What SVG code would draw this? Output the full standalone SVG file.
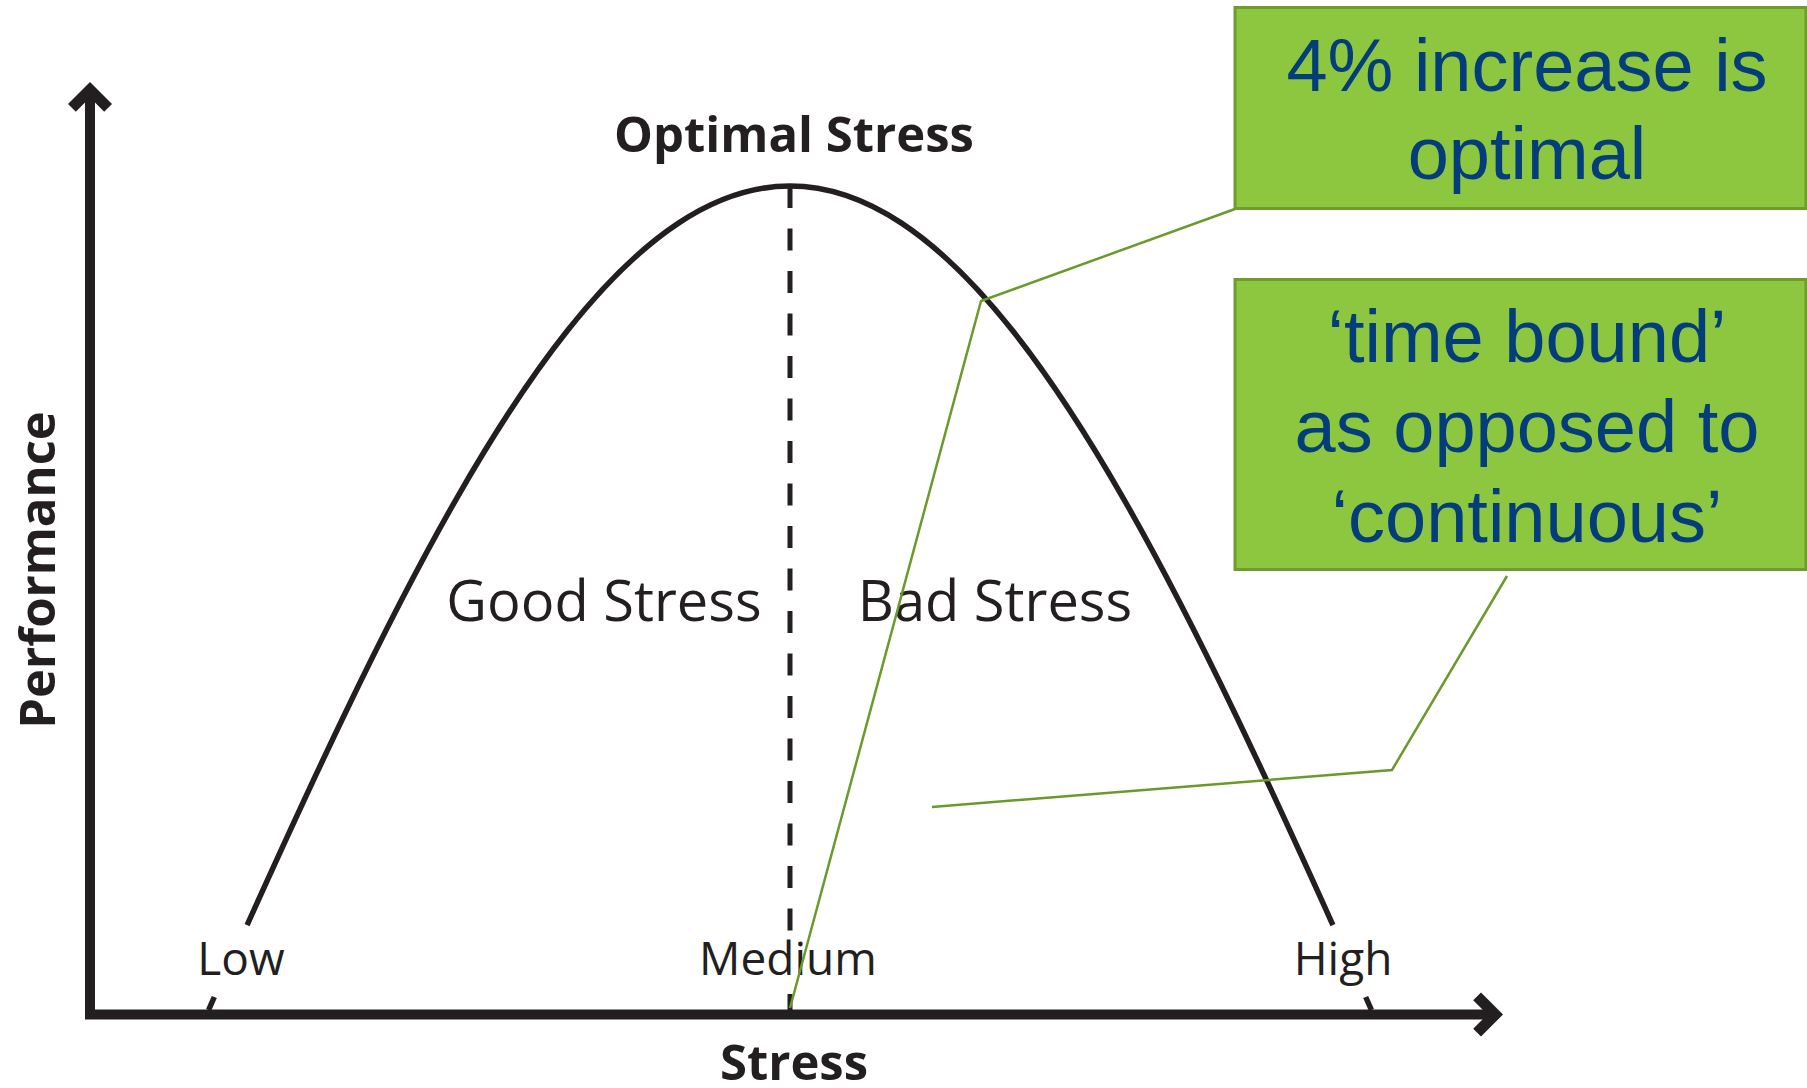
<svg xmlns="http://www.w3.org/2000/svg" width="1807" height="1088" viewBox="0 0 1807 1088">
  <style>
    .ink { fill: #231f20; }
    .axis { stroke: #231f20; stroke-width: 10; fill: none; }
    .curve { stroke: #231f20; stroke-width: 5.5; fill: none; stroke-linecap: butt; }
    .dash { stroke: #231f20; stroke-width: 5; fill: none; stroke-dasharray: 22 20.5; }
    .lbl { font-family: "Open Sans", "Noto Sans", "DejaVu Sans", sans-serif; fill: #231f20; text-anchor: middle; }
    .bold { font-weight: 700; }
    .box { fill: #8dc63f; stroke: #6f9b2f; stroke-width: 3; }
    .note { font-family: "Liberation Sans", Arial, sans-serif; font-size: 74px; fill: #033d7c; text-anchor: middle; }
    .leader { stroke: #6a9a2a; stroke-width: 2.5; fill: none; stroke-linejoin: miter; }
  </style>

  <rect width="1807" height="1088" fill="#ffffff"/>

  <!-- axes with chevron heads -->
  <g id="axes">
    <line class="axis" x1="90" y1="95" x2="90" y2="1019"/>
    <line class="axis" x1="85" y1="1014.5" x2="1492" y2="1014.5" stroke-width="9"/>
    <polygon class="ink" points="90,82 112,104 104.2,111.8 90,97.5 75.8,111.8 68,104"/>
    <polygon class="ink" points="1503,1014.5 1481,992.5 1473.2,1000.3 1487.5,1014.5 1473.2,1028.7 1481,1036.5"/>
  </g>

  <!-- stress/performance curve (half sine hump) -->
  <g id="curve">
    <path class="curve" d="M247.1,925.02
      C279.87,852.38 312.62,780.77 345.39,712.69
      C382.44,635.7 419.49,563.25 456.54,498.55
      C493.59,433.85 530.64,376.91 567.69,330.27
      C604.74,283.63 641.8,247.3 678.85,222.89
      C715.9,198.48 752.95,186 790,186
      C827.05,186 864.1,198.48 901.15,222.89
      C938.2,247.3 975.26,283.63 1012.31,330.27
      C1049.36,376.91 1086.41,433.85 1123.46,498.55
      C1160.51,563.25 1197.56,635.7 1234.61,712.69
      C1267.38,780.77 1300.13,852.38 1332.9,925.02"/>
    <path class="curve" d="M214.3,997 L208.6,1010"/>
    <path class="curve" d="M1365.7,997 L1371.4,1010"/>
    <line class="dash" x1="790" y1="186" x2="790" y2="934"/>
    <line x1="790" y1="994" x2="790" y2="1010" stroke="#231f20" stroke-width="5"/>
  </g>

  <!-- chart labels -->
  <g id="labels">
    <text class="lbl bold" x="794" y="152" font-size="49">Optimal Stress</text>
    <text class="lbl" x="604" y="621" font-size="56">Good Stress</text>
    <text class="lbl" x="995" y="621" font-size="56">Bad Stress</text>
    <text class="lbl" x="241" y="975" font-size="46">Low</text>
    <text class="lbl" x="788" y="975" font-size="46">Medium</text>
    <text class="lbl" x="1343" y="975" font-size="46">High</text>
    <text class="lbl bold" x="794" y="1080" font-size="49">Stress</text>
    <text class="lbl bold" x="0" y="0" font-size="49" transform="translate(55,570) rotate(-90)">Performance</text>
  </g>

  <!-- leader lines from the notes -->
  <g id="connectors">
    <polyline class="leader" points="1235,209 981,301 790,1008"/>
    <polyline class="leader" points="1507,576 1392,770 932,807"/>
  </g>

  <g id="note-optimal">
    <rect class="box" x="1235" y="7.5" width="571" height="201"/>
    <text class="note" x="1527" y="91">4% increase is</text>
    <text class="note" x="1527" y="179">optimal</text>
  </g>

  <g id="note-time-bound">
    <rect class="box" x="1235" y="279.5" width="571" height="290"/>
    <text class="note" x="1527" y="362">‘time bound’</text>
    <text class="note" x="1527" y="452">as opposed to</text>
    <text class="note" x="1527" y="542">‘continuous’</text>
  </g>
</svg>
